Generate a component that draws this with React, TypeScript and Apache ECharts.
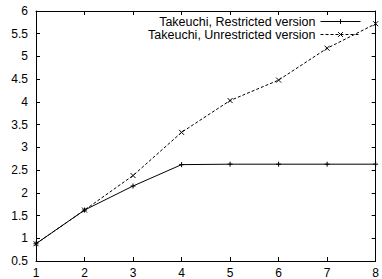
import React, { useEffect, useRef } from "react";
import * as echarts from "echarts";

const xValues = [1, 2, 3, 4, 5, 6, 7, 8];
const restricted = [0.88, 1.62, 2.15, 2.62, 2.63, 2.63, 2.63, 2.63];
const unrestricted = [0.88, 1.62, 2.38, 3.33, 4.03, 4.48, 5.18, 5.72];
const seriesNames = ["Takeuchi, Restricted version", "Takeuchi, Unrestricted version"];

const PLUS = "path://M0,5L10,5M5,0L5,10";
const CROSS = "path://M0,0L10,10M0,10L10,0";

export default function App() {
  const ref = useRef<HTMLDivElement>(null);
  useEffect(() => {
    if (!ref.current) return;
    const chart = echarts.init(ref.current, undefined, { renderer: "svg" });
    const font = "'Liberation Sans', Arial, sans-serif";
    const axisCommon = {
      axisLine: { show: true, lineStyle: { color: "#000", width: 1 } },
      axisTick: { show: true, inside: true, length: 4, lineStyle: { color: "#000" } },
      splitLine: { show: false },
    };
    chart.setOption({
      animation: false,
      backgroundColor: "#fff",
      textStyle: { fontFamily: font },
      grid: { left: 36, right: 5, top: 11, bottom: 18, containLabel: false },
      legend: {
        orient: "vertical",
        right: 21,
        top: 15,
        padding: 0,
        align: "right",
        itemWidth: 40,
        itemHeight: 6,
        itemGap: 0,
        lineStyle: { width: 1 },
        itemStyle: { borderWidth: 1 },
        textStyle: { fontSize: 12.5, lineHeight: 13, color: "#000", fontFamily: font },
        data: seriesNames,
      },
      xAxis: [
        {
          type: "value",
          min: 1,
          max: 8,
          interval: 1,
          position: "bottom",
          ...axisCommon,
          axisLabel: { color: "#000", fontSize: 12, margin: 6, fontFamily: font },
        },
        {
          type: "value",
          min: 1,
          max: 8,
          interval: 1,
          position: "top",
          ...axisCommon,
          axisLabel: { show: false },
        },
      ],
      yAxis: [
        {
          type: "value",
          min: 0.5,
          max: 6,
          interval: 0.5,
          position: "left",
          ...axisCommon,
          axisLabel: { color: "#000", fontSize: 12, margin: 8, fontFamily: font },
        },
        {
          type: "value",
          min: 0.5,
          max: 6,
          interval: 0.5,
          position: "right",
          ...axisCommon,
          axisLabel: { show: false },
        },
      ],
      series: [
        {
          name: seriesNames[0],
          type: "line",
          data: xValues.map((x, i) => [x, restricted[i]]),
          symbol: PLUS,
          symbolSize: 5,
          showSymbol: true,
          lineStyle: { color: "#000", width: 1 },
          itemStyle: { color: "none", borderColor: "#000", borderWidth: 1 },
          emphasis: { disabled: true },
        },
        {
          name: seriesNames[1],
          type: "line",
          data: xValues.map((x, i) => [x, unrestricted[i]]),
          symbol: CROSS,
          symbolSize: 5,
          showSymbol: true,
          lineStyle: { color: "#000", width: 1, type: [3, 2] },
          itemStyle: { color: "none", borderColor: "#000", borderWidth: 1 },
          emphasis: { disabled: true },
        },
      ],
    });
    return () => chart.dispose();
  }, []);
  return <div ref={ref} style={{ width: 382, height: 279, position: "absolute", left: 0, top: 0 }} />;
}
